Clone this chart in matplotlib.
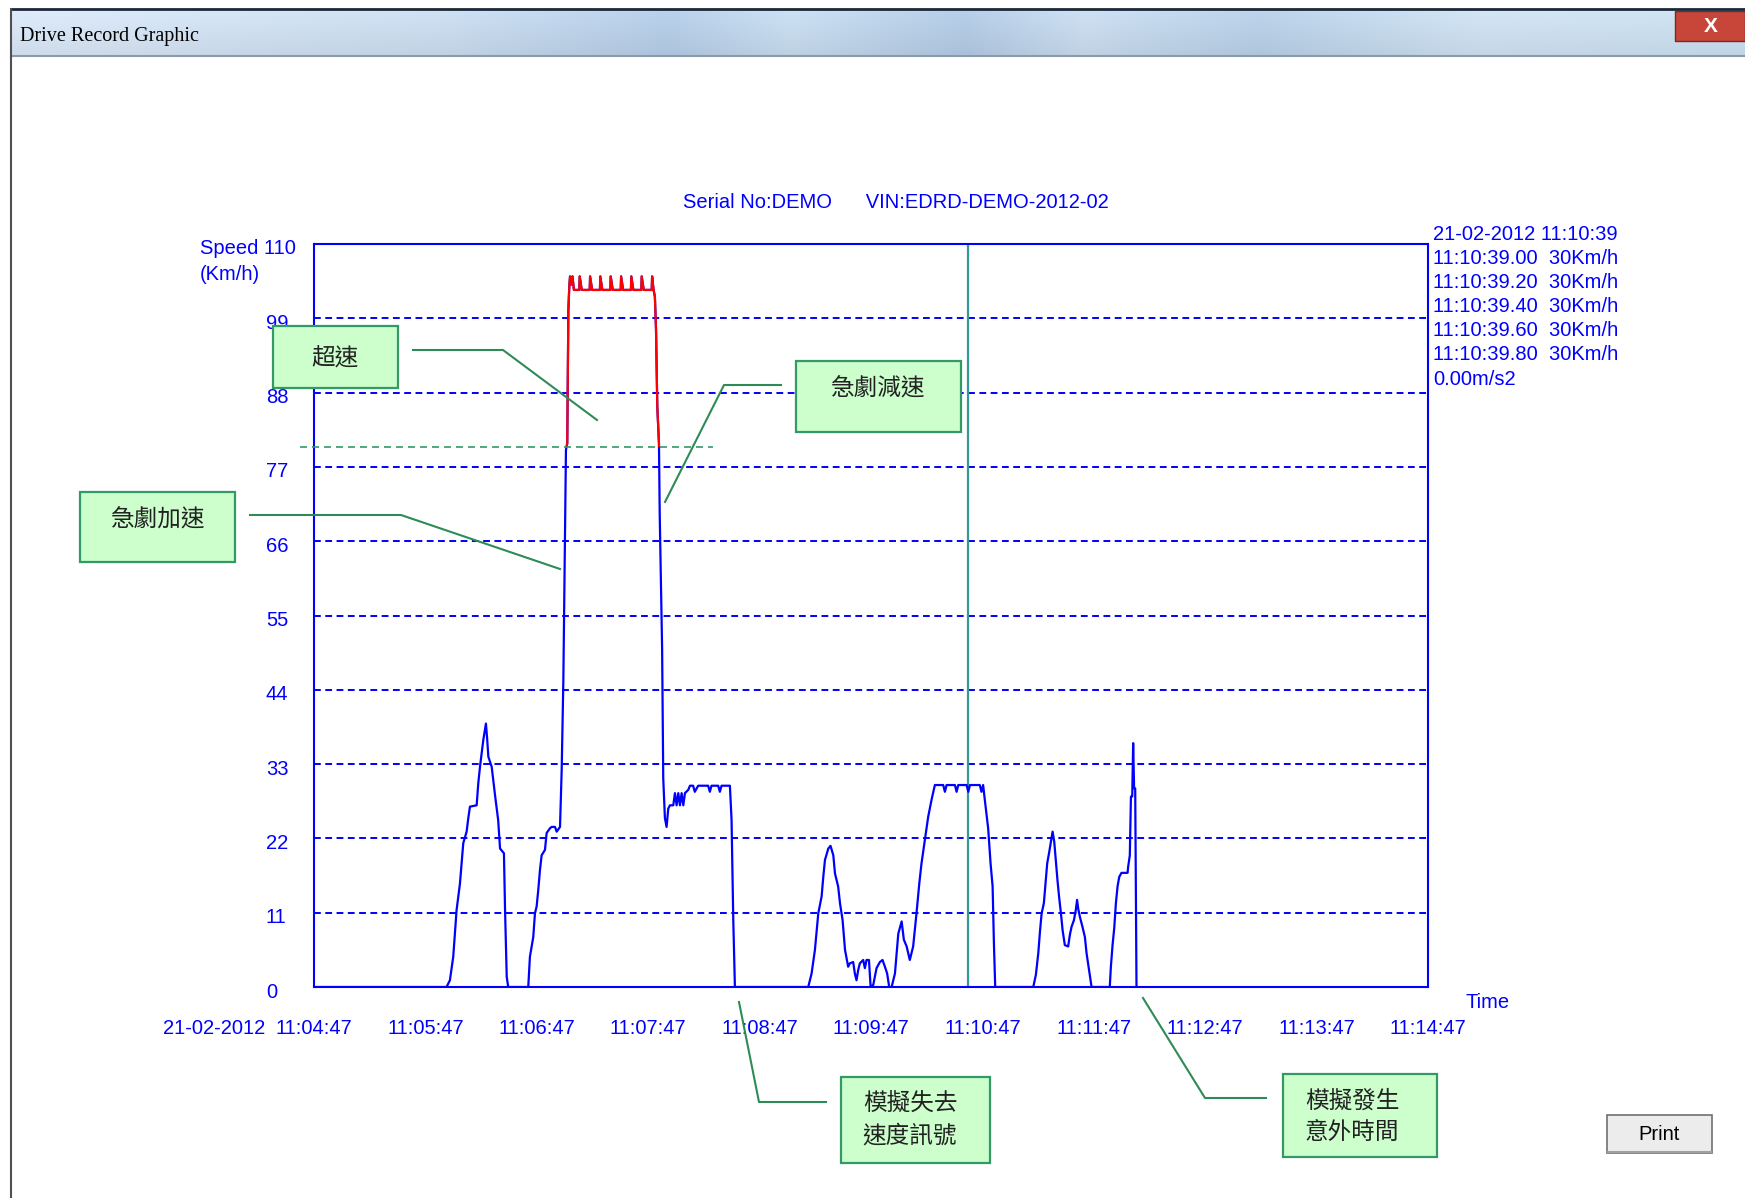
import matplotlib
matplotlib.use("Agg")
import matplotlib.pyplot as plt
import matplotlib.transforms as mtransforms
import numpy as np
from matplotlib.patches import Rectangle

W, H = 1745, 1198
BLUE = "#0000ff"
RED = "#ff0000"
GREEN = "#339966"
TEAL = "#339999"
BOXFILL = "#ccffcc"
FS = 14.5

plt.rcParams["font.family"] = ["Liberation Sans", "DejaVu Sans"]
CJK = ["Noto Sans CJK TC", "DejaVu Sans"]

# ---- record info ----
serial_no = "DEMO"
vin = "EDRD-DEMO-2012-02"
record_date = "21-02-2012"
tick_sec = [0, 60, 120, 180, 240, 300, 360, 420, 480, 540, 600]
time_labels = ["11:04:47", "11:05:47", "11:06:47", "11:07:47", "11:08:47", "11:09:47",
               "11:10:47", "11:11:47", "11:12:47", "11:13:47", "11:14:47"]
speed_ticks = [0, 11, 22, 33, 44, 55, 66, 77, 88, 99]
speed_max = 110
overspeed = 80

# cursor read-out at 11:10:39
cursor_sec = 352
cursor_time = "11:10:39"
sample_times = ["11:10:39.00", "11:10:39.20", "11:10:39.40", "11:10:39.60", "11:10:39.80"]
sample_speeds = [30, 30, 30, 30, 30]
cursor_accel = 0.00

# ---- speed trace (seconds after 11:04:47, km/h) ----
trip1_t = [0, 71.4, 73.2, 75.0, 75.9, 76.8, 77.7, 78.6, 79.5, 80.4, 82.2, 83.1, 84.0, 87.6,
           88.5, 89.4, 91.2, 92.6, 93.3, 93.9, 95.7, 97.5, 99.2, 100.2, 102.3, 102.9, 103.8, 104.6]
trip1_v = [0, 0, 1.0, 4.5, 8.0, 11.4, 13.4, 15.3, 18.3, 21.3, 23.0, 25.0, 26.7, 26.9,
           30.2, 32.6, 36.6, 39.0, 36.6, 34.1, 32.6, 28.4, 24.7, 20.5, 19.8, 11.4, 1.5, 0]

trip2_t = [115.4, 116.3, 118.1, 119.0, 119.9, 120.8, 121.7, 122.6, 124.4, 125.3, 127.1, 128.0,
           129.8, 130.7, 132.5, 133.4, 134.3, 135.7, 136.4, 137.0, 137.5, 137.9, 138.6, 139.2,
           140.0, 142.9, 143.1, 144.2, 148.5, 148.7, 149.8, 154.0, 154.2, 155.3, 159.6, 159.8,
           160.9, 165.2, 165.4, 166.5, 170.7, 170.9, 172.0, 176.3, 176.5, 177.6, 181.9, 182.1,
           182.9, 183.6, 184.2, 184.9, 185.8, 186.2, 187.5, 188.1, 189.0, 189.9, 190.8, 191.7,
           193.5, 194.4, 195.3, 196.2, 197.1, 198.0, 198.9, 199.8, 201.6, 202.5, 204.2, 205.1,
           206.9, 212.3, 213.2, 214.1, 217.7, 218.6, 219.5, 224.0, 224.9, 225.8, 226.7]
trip2_v = [0, 4.5, 7.4, 10.9, 11.9, 14.4, 17.3, 19.5, 20.3, 22.8, 23.5, 23.7,
           23.7, 23.0, 23.7, 32.1, 45.4, 79.5, 80.5, 100.2, 103.7, 105.2, 104.0, 105.2,
           103.2, 103.2, 105.2, 103.2, 103.2, 105.2, 103.2, 103.2, 105.2, 103.2, 103.2, 105.2,
           103.2, 103.2, 105.2, 103.2, 103.2, 105.2, 103.2, 103.2, 105.2, 103.2, 103.2, 105.2,
           103.2, 102.2, 97.5, 85.9, 80.5, 70.0, 50.0, 30.9, 25.0, 23.7, 26.4, 26.9,
           26.9, 28.7, 26.9, 28.7, 26.9, 28.7, 26.9, 28.7, 29.2, 29.8, 29.8, 28.9,
           29.8, 29.8, 28.9, 29.8, 29.8, 28.9, 29.8, 29.8, 24.7, 10.2, 0]

trip3_t = [266.2, 268.0, 269.8, 271.6, 273.4, 274.3, 275.2, 277.0, 278.2, 279.7,
           280.6, 282.3, 283.3, 284.7, 286.0, 287.7, 288.6, 290.4, 291.3, 292.2,
           293.1, 294.0, 295.8, 296.7, 297.6, 298.9, 299.8, 301.2, 303.0, 304.8,
           306.2, 307.5, 308.7, 309.8, 311.1, 312.9, 314.7, 316.5, 317.7, 319.2,
           320.9, 322.7, 324.5, 326.0, 327.2, 329.0, 330.8, 332.6, 334.4, 338.9,
           339.8, 340.7, 345.2, 346.1, 347.0, 351.5, 352.4, 353.3, 358.6, 359.5,
           360.4, 361.3, 363.1, 364.4, 365.5, 366.2, 366.9]
trip3_v = [0, 2.0, 5.5, 10.9, 13.4, 16.3, 18.8, 20.5, 20.9, 19.5,
           16.8, 14.9, 12.4, 9.9, 5.5, 3.0, 3.5, 3.7, 2.0, 1.0,
           2.5, 3.5, 4.0, 2.8, 4.0, 4.0, 0.0, 0.3, 2.8, 3.7,
           4.0, 3.0, 2.0, 0.0, 0.0, 2.0, 7.9, 9.7, 7.0, 6.0,
           4.0, 6.0, 10.9, 15.3, 18.3, 21.8, 25.2, 27.7, 29.9, 29.9,
           28.9, 29.9, 29.9, 28.9, 29.9, 29.9, 28.9, 29.9, 29.9, 28.9,
           29.9, 27.7, 23.5, 18.3, 14.9, 6.5, 0]

trip4_t = [387.4, 388.8, 390.1, 391.0, 391.9, 393.1, 394.0, 394.9, 396.0, 396.9,
           397.8, 398.7, 399.6, 400.5, 401.4, 402.3, 403.2, 404.4, 406.2, 407.1,
           408.0, 409.3, 410.3, 411.0, 411.6, 412.5, 413.9, 415.2, 416.1, 417.0,
           417.9, 418.8, 428.6, 429.2, 430.1, 431.0, 431.9, 432.8, 433.7, 434.9,
           438.2, 438.5, 439.4, 440.0, 440.7, 441.2, 441.7, 442.3, 442.7, 443.0]
trip4_v = [0, 1.8, 5.0, 8.2, 10.9, 12.4, 15.3, 18.3, 20.0, 21.5,
           23.0, 21.5, 18.6, 15.6, 13.1, 10.9, 8.4, 6.2, 6.0, 7.7,
           8.9, 9.9, 11.4, 12.9, 11.6, 10.4, 8.9, 7.4, 5.0, 3.3,
           1.5, 0, 0, 3.0, 6.2, 8.7, 12.4, 14.9, 16.3, 16.9,
           16.9, 17.8, 19.5, 28.2, 28.2, 36.1, 29.4, 29.4, 11.4, 0]

t_sec = np.concatenate([trip1_t, trip2_t, trip3_t, trip4_t])
speed = np.concatenate([trip1_v, trip2_v, trip3_v, trip4_v])

fig = plt.figure(figsize=(W / 100, H / 100), dpi=100)
fig.patch.set_facecolor("white")

# ---- main chart ----
ax = fig.add_axes([314 / W, 1 - 987 / H, (1428 - 314) / W, (987 - 244) / H])
ax.set_xlim(tick_sec[0], tick_sec[-1])
ax.set_ylim(0, speed_max)
for s in ax.spines.values():
    s.set_color(BLUE)
    s.set_linewidth(1.5)

ax.set_xticks(tick_sec, time_labels)
ax.set_xticks(tick_sec[1:-1], minor=True)
ax.tick_params(axis="x", which="major", length=0, pad=23, labelsize=FS, labelcolor=BLUE)
ax.tick_params(axis="x", which="minor", length=7.2, width=1.5, color=BLUE, direction="out")
ax.set_yticks(speed_ticks, [str(v) for v in speed_ticks])
ax.tick_params(axis="y", length=0, pad=34.6, labelsize=FS, labelcolor=BLUE)
down = mtransforms.ScaledTranslation(0, -0.05, fig.dpi_scale_trans)
for lab in ax.get_yticklabels():
    lab.set_horizontalalignment("left")
    lab.set_verticalalignment("center")
    lab.set_transform(lab.get_transform() + down)

for v in speed_ticks[1:]:
    ax.axhline(v, color=BLUE, lw=1.4, ls=(0, (3.5, 2.3)), zorder=1)

ax.plot(t_sec, speed, color=BLUE, lw=1.6, zorder=3)
red, = ax.plot(t_sec, speed, color=RED, lw=1.6, zorder=4)
red.set_clip_path(Rectangle((tick_sec[0], overspeed), tick_sec[-1], speed_max - overspeed,
                            transform=ax.transData))

ax.axvline(cursor_sec, color=TEAL, lw=1.6, zorder=2)
ax.hlines(overspeed, -7.5, 215, colors=GREEN, lw=1.2, linestyles=(0, (4.2, 3.0)),
          clip_on=False, zorder=5)

ax.annotate(record_date, xy=(0, 0), xycoords=("data", "axes fraction"),
            xytext=(-49, -32), textcoords="offset pixels", ha="right", va="top",
            fontsize=FS, color=BLUE, annotation_clip=False)

# ---- overlay in pixel coordinates ----
ov = fig.add_axes([0, 0, 1, 1])
ov.patch.set_alpha(0)

# window title bar
xs = np.linspace(0, 1, 400)
stops = [0, 0.25, 0.38, 0.45, 0.55, 0.62, 0.72, 0.85, 1.0]
rs = [0.84, 0.78, 0.70, 0.77, 0.69, 0.78, 0.71, 0.80, 0.78]
gs = [0.89, 0.85, 0.79, 0.85, 0.78, 0.85, 0.80, 0.87, 0.86]
bs = [0.95, 0.92, 0.89, 0.92, 0.88, 0.92, 0.89, 0.93, 0.92]
row = np.stack([np.interp(xs, stops, rs), np.interp(xs, stops, gs), np.interp(xs, stops, bs)], axis=1)
shade = np.linspace(1.04, 0.97, 20)[:, None, None]
grad = np.clip(row[None, :, :] * shade, 0, 1)
ov.imshow(grad, extent=(11, W, 55, 10), aspect="auto", zorder=0, interpolation="bilinear")
ov.plot([11, W], [9, 9], color="#1c2838", lw=2)
ov.plot([11, W], [56, 56], color="#8a9aab", lw=1.5)
ov.plot([11, 11], [9, H], color="#505050", lw=1.5)
ov.text(20, 36, "Drive Record Graphic", family="Liberation Serif", fontsize=14.5,
        va="center", ha="left", color="black")
ov.add_patch(Rectangle((1675, 11), 70, 30, facecolor="#c8453a", edgecolor="#7a2a22", lw=1))
ov.text(1711, 26, "X", color="white", fontsize=15, fontweight="bold", ha="center", va="center")

# chart texts
ov.text(896, 203, f"Serial No:{serial_no}      VIN:{vin}", fontsize=FS, color=BLUE,
        ha="center", va="center")
ov.text(200, 248, f"Speed {speed_max}", fontsize=FS, color=BLUE, ha="left", va="center")
ov.text(200, 275, "(Km/h)", fontsize=FS, color=BLUE, ha="left", va="center")
ov.text(1466, 1002, "Time", fontsize=FS, color=BLUE, ha="left", va="center")

readout = [f"{record_date} {cursor_time}"]
readout += [f"{tm}  {sp}Km/h" for tm, sp in zip(sample_times, sample_speeds)]
readout += [f"{cursor_accel:.2f}m/s2"]
for i, line in enumerate(readout):
    ov.text(1433, 234 + i * 24.2, line, fontsize=FS, color=BLUE, ha="left", va="center")

# callout boxes
callouts = [
    ("超速", (273, 326, 398, 388), (335, 359), [(413, 350), (503, 350), (597, 420)]),
    ("急劇減速", (796, 361, 961, 432), (878, 389), [(781, 385), (724, 385), (665, 502)]),
    ("急劇加速", (80, 492, 235, 562), (158, 520), [(250, 515), (401, 515), (560, 569)]),
    ("模擬失去\n速度訊號", (841, 1077, 990, 1163), (910, 1120), [(826, 1102), (759, 1102), (739, 1002)]),
    ("模擬發生\n意外時間", (1283, 1074, 1437, 1157), (1352, 1117), [(1266, 1098), (1205, 1098), (1143, 998)]),
]
for text, (x0, y0, x1, y1), (tx, ty), leader in callouts:
    ov.add_patch(Rectangle((x0, y0), x1 - x0, y1 - y0, facecolor=BOXFILL, edgecolor=GREEN,
                           lw=1.6, zorder=6))
    ov.text(tx, ty, text, family=CJK, fontsize=17, color="#222222", ha="center", va="center",
            linespacing=1.45, zorder=7)
    lx, ly = zip(*leader)
    ov.plot(lx, ly, color="#2e8b57", lw=1.5, zorder=6)

# print button
ov.add_patch(Rectangle((1607, 1115), 105, 38, facecolor="#ececec", edgecolor="#707070", lw=1.2))
ov.plot([1608, 1711], [1152, 1152], color="#a0a0a0", lw=1.5)
ov.text(1659, 1135, "Print", fontsize=FS, color="black", ha="center", va="center")

ov.set_xlim(0, W)
ov.set_ylim(H, 0)
ov.axis("off")

fig.savefig("out.png", dpi=100)
